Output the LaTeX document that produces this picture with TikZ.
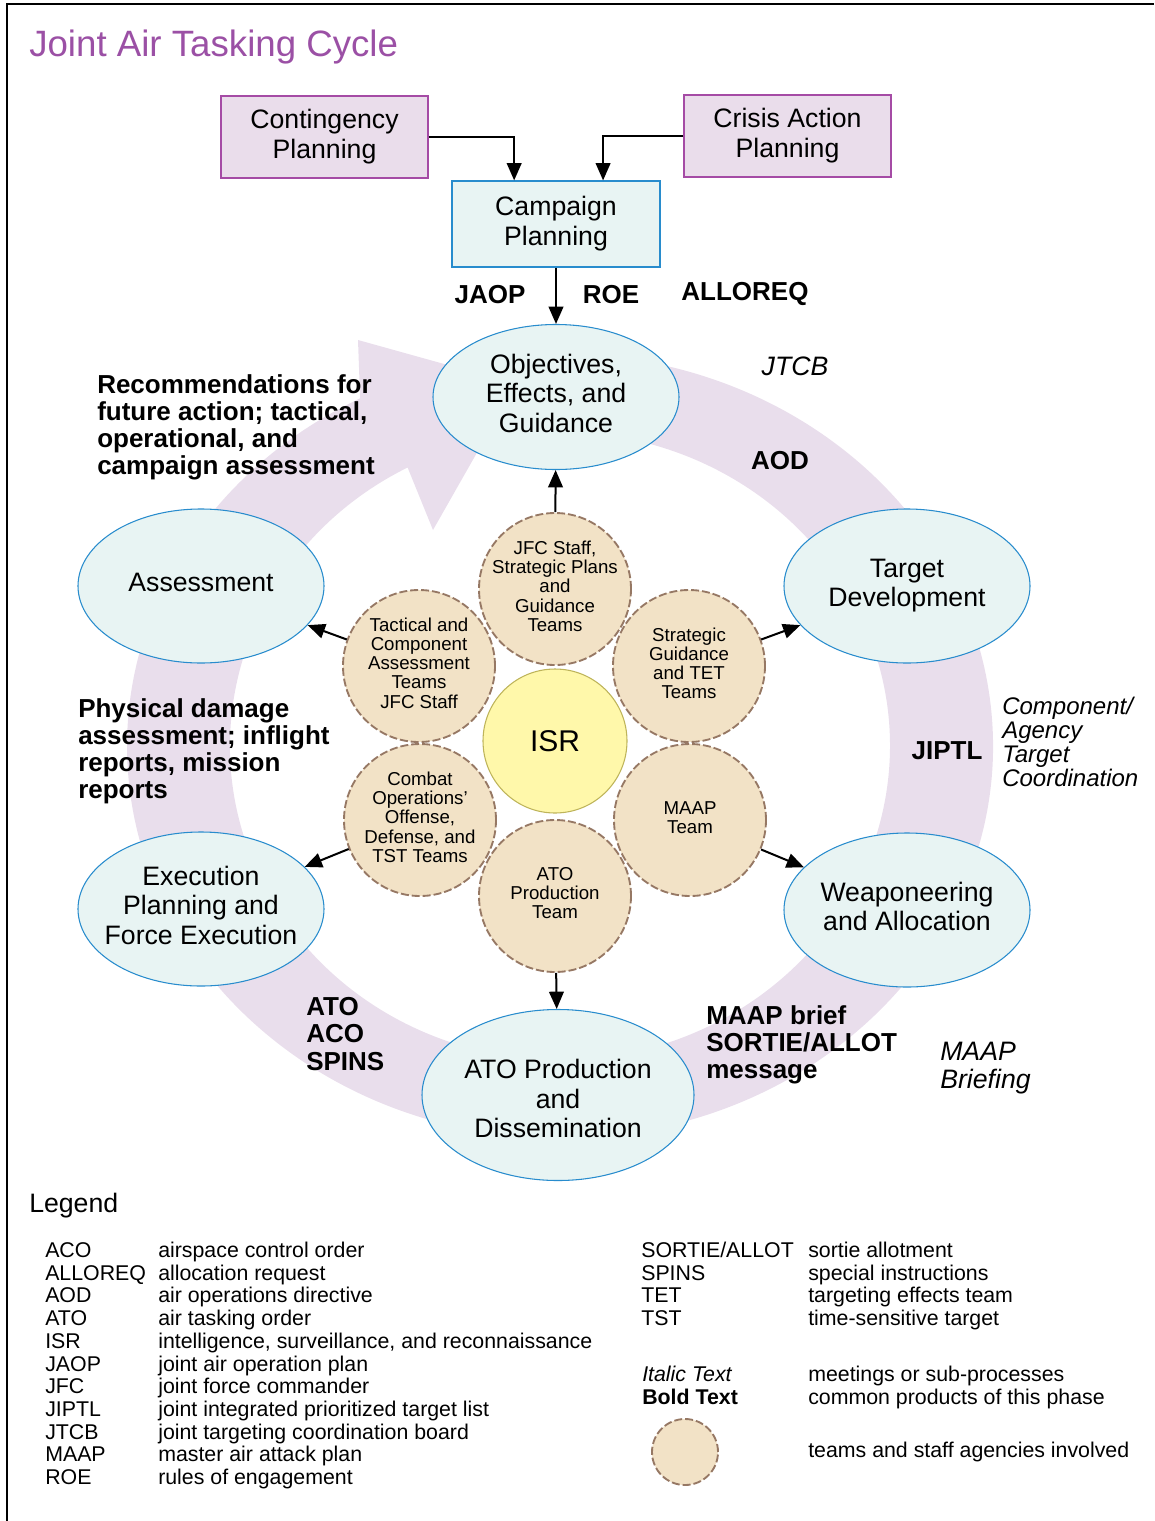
\documentclass[tikz,border=0pt]{standalone}
\usepackage{fontspec}
\setmainfont{Liberation Sans}
\usetikzlibrary{shapes.geometric,arrows.meta,calc}

\definecolor{ringlav}{RGB}{233,222,236}
\definecolor{boxlav}{RGB}{234,221,235}
\definecolor{boxpurp}{RGB}{165,75,165}
\definecolor{titlepurp}{RGB}{155,80,165}
\definecolor{cyanfill}{RGB}{232,244,243}
\definecolor{cyanline}{RGB}{40,140,205}
\definecolor{tanfill}{RGB}{242,226,198}
\definecolor{tanline}{RGB}{150,120,100}
\definecolor{isrfill}{RGB}{255,248,170}
\definecolor{isrline}{RGB}{190,180,90}

% centred lines that do not widen the shape
\newcommand{\zw}[1]{\makebox[0pt]{\begin{tabular}{@{}c@{}}#1\end{tabular}}}

\tikzset{
  planbox/.style={draw=boxpurp, fill=boxlav, line width=0.9pt, minimum width=155.25pt, minimum height=61.5pt, align=center, font=\fontsize{20}{22.5}\selectfont},
  campbox/.style={planbox, draw=cyanline, fill=cyanfill},
  phase/.style={ellipse, draw=cyanline, fill=cyanfill, line width=0.8pt, inner sep=0pt, minimum width=184.5pt, minimum height=115.5pt, font=\fontsize{20}{22.2}\selectfont},
  team/.style={circle, draw=tanline, fill=tanfill, line width=1.4pt, dash pattern=on 6pt off 2.2pt, inner sep=0pt, minimum size=114pt, font=\fontsize{14}{14.3}\selectfont},
  flow/.style={line width=1.5pt, -{Triangle[length=13pt,width=11pt]}},
  prod/.style={font=\fontsize{19.5}{20.3}\selectfont\bfseries, align=left, inner sep=0pt},
  meet/.style={font=\fontsize{20}{21}\selectfont\itshape, align=left, inner sep=0pt},
  legtxt/.style={font=\fontsize{16}{17}\selectfont, anchor=base west, inner sep=0pt},
}

\begin{document}
\begin{tikzpicture}[x=0.75pt,y=0.75pt,yscale=-1,xscale=1]
\useasboundingbox (0,0) rectangle (1154,1521);

%Frame
\draw [line width=1.8pt] (7,1521) -- (7,4) -- (1154,4) ;

%Shape: Ring arrow
\fill [ringlav] (522.3,355.5) arc [start angle=-95, end angle=242.5, x radius=433, y radius=392] -- (358,340) -- (516,384) -- (433,530) -- (407.6,467.5) arc [start angle=242.5, end angle=-95, x radius=330, y radius=314] -- cycle ;

% Text Node
\node [anchor=west, inner sep=0pt, text=titlepurp, font=\fontsize{27.5}{30}\selectfont] (title) at (29,47) {Joint Air Tasking Cycle};

%Shape: Rectangle
\node [planbox] (cont) at (324.5,137) {Contingency\\Planning};
\node [planbox] (crisis) at (787.5,136) {Crisis Action\\Planning};
\node [campbox, minimum width=156pt, minimum height=64.5pt] (camp) at (556,224) {Campaign\\Planning};

%Shape: Ellipse
\node [phase, minimum height=108.75pt] (obj) at (556,397) {\zw{Objectives,\\Effects, and\\Guidance}};
\node [phase] (tgt) at (907,586) {\zw{Target\\Development}};
\node [phase] (weap) at (907,910) {\zw{Weaponeering\\and Allocation}};
\node [phase, minimum width=204pt, minimum height=128.25pt] (atoprod) at (558,1095) {\raisebox{-10.5pt}[0pt][0pt]{\zw{ATO Production\\and\\Dissemination}}};
\node [phase] (exec) at (201,909) {\zw{Execution\\Planning and\\Force Execution}};
\node [phase] (assess) at (201,586) {\zw{Assessment}};

%Shape: Circle
\node [team] (jfc) at (555,589) {\zw{JFC Staff,\\Strategic Plans\\and\\Guidance\\Teams}};
\node [team] (stg) at (689,666) {\zw{Strategic\\Guidance\\and TET\\Teams}};
\node [team] (maap) at (690,820) {\zw{MAAP\\Team}};
\node [team] (atot) at (555,896) {\zw{ATO\\Production\\Team}};
\node [team] (cmbt) at (420,820) {\zw{Combat\\Operations'\\Offense,\\Defense, and\\TST Teams}};
\node [team] (tact) at (419,666) {\zw{Tactical and\\Component\\Assessment\\Teams\\JFC Staff}};
\node [circle, draw=isrline, fill=isrfill, line width=0.8pt, inner sep=0pt, minimum size=108pt, font=\fontsize{22.5}{24}\selectfont] (isr) at (555,741) {ISR};

%Straight Lines
\draw [flow] (cont.east) -| ($(camp.north west)!0.3!(camp.north east)$) ;
\draw [flow] (crisis.west) -| ($(camp.north west)!0.725!(camp.north east)$) ;
\draw [flow] (camp) -- (obj) ;
\draw [flow] (jfc) -- (obj) ;
\draw [flow] (stg) -- (tgt) ;
\draw [flow] (maap) -- (weap) ;
\draw [flow] (atot) -- (atoprod) ;
\draw [flow] (cmbt) -- (exec) ;
\draw [flow] (tact) -- (assess) ;

% Text Node
\node [prod] (jaop) at (490,295) {JAOP};
\node [prod] (roe) at (611,295) {ROE};
\node [prod] (alloreq) at (745,294) {ALLOREQ};
\node [prod] (aod) at (780,461) {AOD};
\node [prod] (jiptl) at (947,751) {JIPTL};
\node [prod, anchor=west] (recom) at (97,427.5) {Recommendations for\\future action; tactical,\\operational, and\\campaign assessment};
\node [prod, anchor=west] (damage) at (78,751.5) {Physical damage\\assessment; inflight\\reports, mission\\reports};
\node [prod, anchor=west] (atolist) at (306,1034) {ATO\\ACO\\SPINS};
\node [prod, anchor=west] (maaplist) at (706,1045) {MAAP brief\\SORTIE/ALLOT\\message};
\node [meet] (jtcb) at (795,366) {JTCB};
\node [meet, anchor=west, font=\fontsize{18}{18}\selectfont\itshape] (coord) at (1002,742) {Component/\\Agency\\Target\\Coordination};
\node [meet, anchor=west] (brief) at (940,1068) {MAAP\\Briefing};

%Legend
\node [anchor=west, inner sep=0pt, font=\fontsize{20}{22}\selectfont] (legend) at (29,1206) {Legend};
\foreach \ab/\txt [count=\i from 0] in {ACO/airspace control order, ALLOREQ/allocation request, AOD/air operations directive, ATO/air tasking order, ISR/{intelligence, surveillance, and reconnaissance}, JAOP/joint air operation plan, JFC/joint force commander, JIPTL/joint integrated prioritized target list, JTCB/joint targeting coordination board, MAAP/master air attack plan, ROE/rules of engagement}
{
  \node [legtxt] (lab\i) at (45,1257.5+22.7*\i) {\ab};
  \node [legtxt] (ldesc\i) at (158,1257.5+22.7*\i) {\txt};
}
\foreach \ab/\txt [count=\i from 0] in {{SORTIE/ALLOT}/sortie allotment, SPINS/special instructions, TET/targeting effects team, TST/time-sensitive target}
{
  \node [legtxt] (rab\i) at (641,1257.5+22.7*\i) {\ab};
  \node [legtxt] (rdesc\i) at (808,1257.5+22.7*\i) {\txt};
}
\node [legtxt, font=\fontsize{16}{17}\selectfont\itshape] (litalic) at (642,1381.5) {Italic Text};
\node [legtxt] (litalicd) at (808,1381.5) {meetings or sub-processes};
\node [legtxt, font=\fontsize{16}{17}\selectfont\bfseries] (lbold) at (642,1404.5) {Bold Text};
\node [legtxt] (lboldd) at (808,1404.5) {common products of this phase};
\node [team, minimum size=49.5pt] (lteam) at (685,1452) {};
\node [legtxt, anchor=west] (lteamd) at (808,1452) {teams and staff agencies involved};
\end{tikzpicture}
\end{document}
